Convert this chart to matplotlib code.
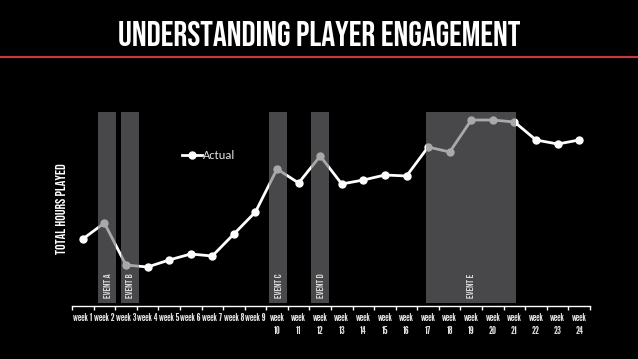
import matplotlib
matplotlib.use('Agg')
import matplotlib.pyplot as plt
import numpy as np

# weekly totals (arbitrary units, y axis has no scale)
weeks = [f'week {i}' for i in range(1, 10)] + [f'week\n{i}' for i in range(10, 25)]
hours = [67, 83, 41, 39, 46, 52, 50, 72, 94, 137, 123, 150,
         122, 126, 131, 130, 159, 154, 186, 186, 184, 166, 162, 166]

# event windows in week units (start, end)
event_names = ['EVENT A', 'EVENT B', 'EVENT C', 'EVENT D', 'EVENT E']
event_start = [1.70, 2.75, 9.61, 11.56, 16.88]
event_end = [2.55, 3.60, 10.48, 12.43, 21.05]

caps = ['Bebas Neue', 'League Gothic', 'DejaVu Sans']
narrow = ['League Gothic', 'Oswald', 'DejaVu Sans']
body = ['Carlito', 'DejaVu Sans']

fig = plt.figure(figsize=(6.38, 3.59), dpi=100, facecolor='black')
ax = fig.add_axes([72 / 638, 53 / 359, 518 / 638, 194 / 359])
ax.set_facecolor('black')

x = np.arange(1, len(hours) + 1)
ax.plot(x, hours, color='white', lw=2, marker='o', ms=5, label='Actual', zorder=2)

# event bars drawn over the line, semi transparent
for name, s, e in zip(event_names, event_start, event_end):
    ax.bar((s + e) / 2, 191, width=e - s, bottom=3, color=(117/255, 117/255, 120/255),
           alpha=0.62, zorder=3)
    ax.text((s + e) / 2, 8, name, rotation=90, ha='center', va='bottom',
            color='#d8d8d8', fontsize=7.3, family=caps, zorder=4)

ax.set_xlim(0.5, 24.5)
ax.set_ylim(0, 194)
ax.set_yticks([])
ax.set_xticks(x)
ax.set_xticklabels(weeks, color='#e0e0e0', fontsize=8, family=narrow, linespacing=1.35)
ax.set_xticks(np.arange(0.5, 25, 1), minor=True)
ax.tick_params(axis='x', which='major', length=0, pad=5)
ax.tick_params(axis='x', which='minor', length=3, width=1, color='white')
for side in ['top', 'right', 'left']:
    ax.spines[side].set_visible(False)
ax.spines['bottom'].set_color('white')
ax.spines['bottom'].set_linewidth(1)

ax.set_ylabel('TOTAL HOURS PLAYED', color='white', fontsize=10, family=caps,
              labelpad=4)

leg = ax.legend(loc='upper left', bbox_to_anchor=(0.19, 0.86), frameon=False,
                handlelength=1.6, handletextpad=0.1, prop={'family': body, 'size': 9})
for t in leg.get_texts():
    t.set_color('#e0e0e0')

fig.text(0.5, 1 - 34 / 359, 'UNDERSTANDING PLAYER ENGAGEMENT', ha='center', va='center',
         color='white', fontsize=25, family=caps)
fig.add_artist(plt.Line2D([0, 1], [1 - 57 / 359] * 2, color='#c03c3c', lw=1.6,
                          transform=fig.transFigure))

fig.savefig('out.png', dpi=100, facecolor='black')
